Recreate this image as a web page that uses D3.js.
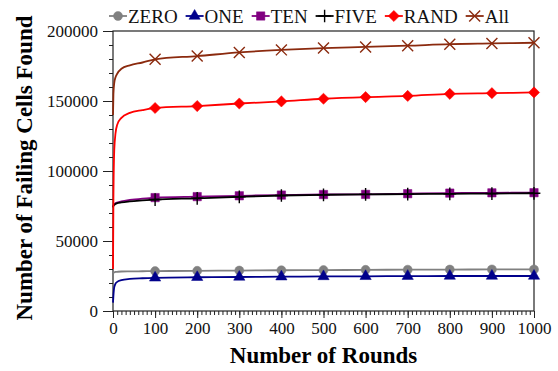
<!DOCTYPE html>
<html>
<head>
<meta charset="utf-8">
<script src="https://cdn.jsdelivr.net/npm/d3@7"></script>
</head>
<body style="margin:0;background:#fff">
<div id="chart"></div>
<script>
// rounds shared by every series
const rounds = [0, 1, 3, 6, 10, 20, 40, 70, 100, 200, 300, 400, 500, 600, 700, 800, 900, 1000]

const zero = [27000, 27300, 27600, 27900, 28000, 28200, 28300, 28400, 28500, 28700, 28900, 29100, 29200, 29400, 29500, 29600, 29700, 29700]
const one = [6000, 11000, 17000, 19500, 20800, 22000, 22900, 23400, 23700, 24100, 24300, 24500, 24700, 24800, 24900, 25000, 25000, 25000]
const ten = [74500, 75500, 76300, 77000, 77500, 78300, 79300, 80300, 81000, 81700, 82300, 82800, 83200, 83300, 83800, 84200, 84400, 84500]
const five = [74000, 75000, 75800, 76500, 77000, 77600, 78300, 79000, 79600, 80500, 81600, 82500, 83000, 83300, 83500, 83700, 83900, 84100]
const rand = [30000, 80000, 115000, 127000, 133000, 138000, 141500, 143500, 145000, 146400, 148200, 149700, 151600, 152800, 153600, 155100, 155600, 156100]
const all = [140000, 155000, 163000, 167000, 169500, 173000, 175500, 177500, 179800, 182100, 184700, 186500, 187800, 188600, 189500, 190600, 191100, 191600]

const names = ['ZERO', 'ONE', 'TEN', 'FIVE', 'RAND', 'All']
const values = [zero, one, ten, five, rand, all]
const colors = ['#808080', '#00008b', '#800080', '#000000', '#ff0000', '#8b2a0e']

const xTicks = [0, 100, 200, 300, 400, 500, 600, 700, 800, 900, 1000]
const yTicks = [0, 50000, 100000, 150000, 200000]

const width = 558
const height = 371
const margin = { top: 31, right: 24, bottom: 60, left: 113 }
const font = 'Liberation Serif, Times New Roman, serif'

const diamond = d3.symbolDiamond2 || d3.symbolDiamond
const symbols = [
  { type: d3.symbolCircle, size: 64, fill: true },
  { type: d3.symbolTriangle, size: 55, fill: true },
  { type: d3.symbolSquare, size: 70, fill: true },
  { type: d3.symbolPlus, size: 55, fill: false },
  { type: diamond, size: 80, fill: true },
  { type: d3.symbolTimes, size: 80, fill: false }
]

const svg = d3
  .select('#chart')
  .append('svg')
  .attr('width', width)
  .attr('height', height)
  .attr('viewBox', [0, 0, width, height])
  .attr('font-family', font)
  .style('display', 'block')

const xScale = d3.scaleLinear().domain([0, 1000]).range([margin.left, width - margin.right])
const yScale = d3.scaleLinear().domain([0, 200000]).range([height - margin.bottom, margin.top])

// frame
svg
  .append('rect')
  .attr('x', xScale(0))
  .attr('y', yScale(200000))
  .attr('width', xScale(1000) - xScale(0))
  .attr('height', yScale(0) - yScale(200000))
  .attr('fill', 'none')
  .attr('stroke', '#222')
  .attr('stroke-width', 1.2)

// y axis with minor ticks
const yMinor = d3.range(0, 200001, 10000)
svg
  .append('g')
  .attr('transform', `translate(${xScale(0)},0)`)
  .call(d3.axisLeft(yScale).tickValues(yMinor).tickSize(4).tickFormat(''))
  .call((g) => g.select('.domain').remove())
svg
  .append('g')
  .attr('transform', `translate(${xScale(0)},0)`)
  .call(d3.axisLeft(yScale).tickValues(yTicks).tickSize(10).tickPadding(5).tickFormat(d3.format('d')))
  .call((g) => g.select('.domain').remove())
  .call((g) => g.attr('font-family', font).attr('font-size', 17))
  .call((g) => g.selectAll('text').attr('font-family', font).attr('fill', '#111'))

// x axis with minor ticks
const xMinor = d3.range(0, 1001, 10)
svg
  .append('g')
  .attr('transform', `translate(0,${yScale(0)})`)
  .call(d3.axisBottom(xScale).tickValues(xMinor).tickSize(4).tickFormat(''))
  .call((g) => g.select('.domain').remove())
svg
  .append('g')
  .attr('transform', `translate(0,${yScale(0)})`)
  .call(d3.axisBottom(xScale).tickValues(xTicks).tickSize(7).tickPadding(4).tickFormat(d3.format('d')))
  .call((g) => g.select('.domain').remove())
  .call((g) => g.attr('font-family', font).attr('font-size', 17))
  .call((g) => g.selectAll('text').attr('font-family', font).attr('fill', '#111'))

svg.selectAll('.tick line').attr('stroke', '#222')

// axis titles
svg
  .append('text')
  .attr('x', (xScale(0) + xScale(1000)) / 2)
  .attr('y', 363)
  .attr('text-anchor', 'middle')
  .attr('font-family', font)
  .attr('font-size', 23)
  .attr('font-weight', 'bold')
  .text('Number of Rounds')

svg
  .append('text')
  .attr('transform', `translate(32,${(yScale(0) + yScale(200000)) / 2 - 3}) rotate(-90)`)
  .attr('text-anchor', 'middle')
  .attr('font-family', font)
  .attr('font-size', 23)
  .attr('font-weight', 'bold')
  .text('Number of Failing Cells Found')

// series
const line = d3
  .line()
  .x((d) => xScale(d[0]))
  .y((d) => yScale(d[1]))
  .curve(d3.curveMonotoneX)

const symbolPath = (i) => d3.symbol().type(symbols[i].type).size(symbols[i].size)()

names.forEach((name, i) => {
  const pts = rounds.map((r, j) => [r, values[i][j]])
  const g = svg.append('g').attr('class', 'series')
  g.append('path')
    .attr('d', line(pts))
    .attr('fill', 'none')
    .attr('stroke', colors[i])
    .attr('stroke-width', 1.8)
  g.selectAll('path.mark')
    .data(pts.filter((d) => d[0] >= 100))
    .join('path')
    .attr('class', 'mark')
    .attr('transform', (d) => `translate(${xScale(d[0])},${yScale(d[1])})`)
    .attr('d', symbolPath(i))
    .attr('fill', symbols[i].fill ? colors[i] : 'none')
    .attr('stroke', colors[i])
    .attr('stroke-width', symbols[i].fill ? 0.5 : 1.4)
})

// legend
const legend = svg.append('g').attr('class', 'legend')
let lx = 109
names.forEach((name, i) => {
  const item = legend.append('g').attr('transform', `translate(${lx},16)`)
  item.append('line').attr('x1', 0).attr('x2', 18).attr('stroke', colors[i]).attr('stroke-width', 1.8)
  item.append('path')
    .attr('transform', 'translate(9,0)')
    .attr('d', symbolPath(i))
    .attr('fill', symbols[i].fill ? colors[i] : 'none')
    .attr('stroke', colors[i])
    .attr('stroke-width', symbols[i].fill ? 0.5 : 1.4)
  const t = item.append('text')
    .attr('x', 19)
    .attr('y', 7)
    .attr('font-family', font)
    .attr('font-size', 19)
    .attr('fill', '#111')
    .text(name)
  lx += 19 + t.node().getComputedTextLength() + 8
})
</script>
</body>
</html>
